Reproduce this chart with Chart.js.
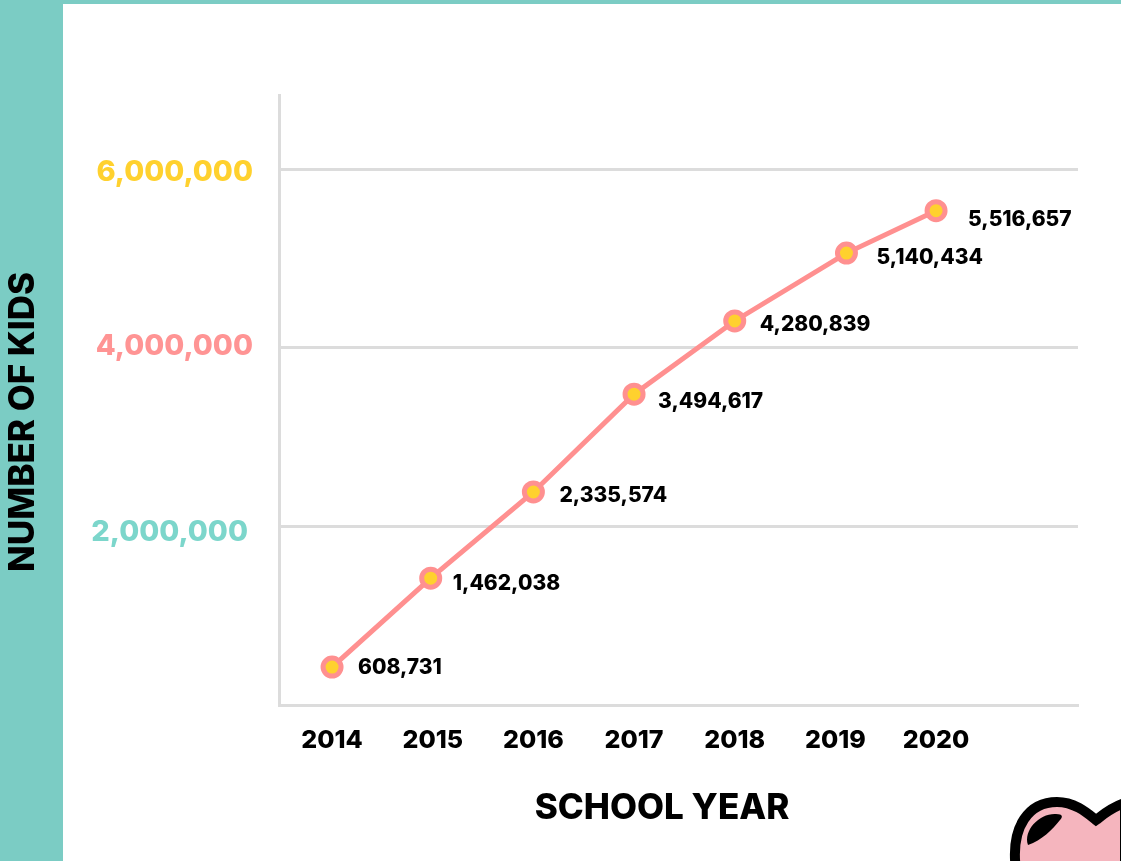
<!DOCTYPE html>
<html>
<head>
<meta charset="utf-8">
<script src="https://cdn.jsdelivr.net/npm/chart.js@4"></script>
<style>
html,body{margin:0;padding:0;background:#fff;width:1121px;height:861px;overflow:hidden}
#wrap{position:relative;width:1121px;height:861px}
#c{position:absolute;left:0;top:0}
.band{position:absolute;background:#7BCCC4}
#heart{position:absolute;left:0;top:0}
</style>
</head>
<body>
<div id="wrap">
<div class="band" style="left:0;top:0;width:1121px;height:4px"></div>
<div class="band" style="left:0;top:0;width:63px;height:861px"></div>
<canvas id="c" width="1121" height="861"></canvas>
<svg id="heart" width="1121" height="861">
<path d="M1016 870 C1010 825 1030 802 1057 802 C1074 802 1086 812 1096 820 C1104 814 1112 807 1125 803 L1125 870 Z" fill="#F5B5BE" stroke="#000" stroke-width="10"/>
<path d="M1028 845 C1023 830 1040 813 1056 814 C1063 814 1063 817 1060 820 C1052 830 1042 840 1028 845 Z" fill="#000"/>
</svg>
</div>
<script>
const schoolYears = [2014, 2015, 2016, 2017, 2018, 2019, 2020];
// Horizontal placement of each marker
const pointYears = [2014, 2014.98, 2016, 2017, 2018, 2019.11, 2020];
// Height of each marker as read against the axis
const plottedKids = [425000, 1420000, 2385000, 3480000, 4300000, 5060000, 5535000];
// Values printed beside the markers
const printedLabels = ['608,731', '1,462,038', '2,335,574', '3,494,617', '4,280,839', '5,140,434', '5,516,657'];
const yTicks = [2000000, 4000000, 6000000];
const yTickColors = {2000000: '#7CD6CB', 4000000: '#FF9494', 6000000: '#FFD12E'};
const yTickNudge = {2000000: [-5, 6], 4000000: [0, -1], 6000000: [0, 3]};
const labelNudge = [[26, 1], [22, 6], [26, 4], [24, 7], [25, 4], [30, 5], [32, 9]];

const FONT = 'Inter, "Liberation Sans", sans-serif';

const valueLabels = {
  id: 'valueLabels',
  beforeDraw(chart) {
    chart.scales.y.getLabelItems().forEach((item, i) => {
      const n = yTickNudge[yTicks[i]];
      if (!item.nudged) {
        item.options.translation[0] += n[0];
        item.options.translation[1] += n[1];
        item.nudged = true;
      }
    });
  },
  afterDatasetsDraw(chart) {
    const ctx = chart.ctx;
    const pts = chart.getDatasetMeta(0).data;
    ctx.save();
    ctx.fillStyle = '#000';
    ctx.textBaseline = 'middle';
    ctx.textAlign = 'left';
    ctx.font = '800 21px ' + FONT;
    pts.forEach((p, i) => ctx.fillText(printedLabels[i], p.x + labelNudge[i][0], p.y + labelNudge[i][1]));
    ctx.textAlign = 'center';
    ctx.font = '800 35px ' + FONT;
    ctx.fillText('SCHOOL YEAR', 662, 808);
    ctx.translate(23, 422);
    ctx.rotate(-Math.PI / 2);
    ctx.font = '800 35px ' + FONT;
    ctx.fillText('NUMBER OF KIDS', 0, 0);
    ctx.restore();
  }
};

new Chart(document.getElementById('c'), {
  type: 'line',
  data: {
    datasets: [{
      data: pointYears.map((x, i) => ({x, y: plottedKids[i]})),
      borderColor: '#FF9090',
      borderWidth: 5,
      pointBackgroundColor: '#FFD12E',
      pointBorderColor: '#FF9090',
      pointBorderWidth: 5,
      pointRadius: 9,
      tension: 0
    }]
  },
  plugins: [valueLabels],
  options: {
    responsive: false,
    animation: false,
    layout: {padding: {left: 0, right: 43, top: 95, bottom: 0}},
    plugins: {legend: {display: false}, tooltip: {enabled: false}},
    scales: {
      x: {
        type: 'linear',
        min: 2013.473,
        max: 2021.41,
        afterBuildTicks(s) { s.ticks = schoolYears.map(v => ({value: v})); },
        afterFit(s) { s.height = 156; },
        grid: {display: false, drawTicks: false},
        border: {color: '#DCDCDC', width: 3},
        ticks: {
          padding: 20,
          maxRotation: 0,
          autoSkip: false,
          color: '#000',
          font: {family: FONT, size: 25, weight: '800'},
          callback: v => String(v)
        }
      },
      y: {
        min: 0,
        max: 6830000,
        afterBuildTicks(s) { s.ticks = yTicks.map(v => ({value: v})); },
        afterFit(s) { s.width = 279; },
        grid: {color: '#DCDCDC', lineWidth: 3, drawTicks: false},
        border: {color: '#DCDCDC', width: 3},
        ticks: {
          padding: 26,
          color: c => yTickColors[c.tick.value],
          font: {family: FONT, size: 29, weight: '800'},
          callback: v => v.toLocaleString('en-US')
        }
      }
    }
  }
});
</script>
</body>
</html>
